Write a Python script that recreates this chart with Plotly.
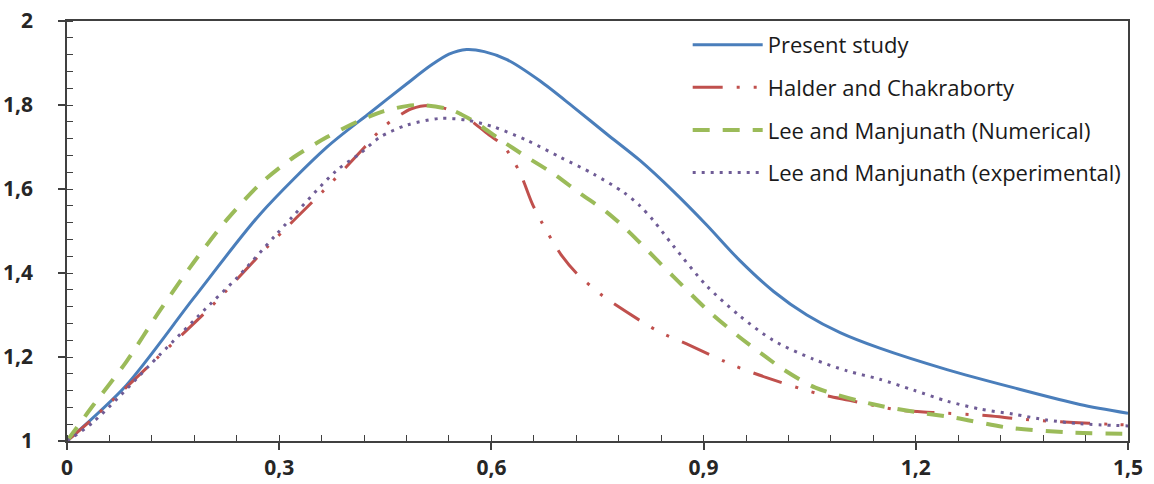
import plotly.graph_objects as go

# Present study
x_present = [0.0, 0.084, 0.179, 0.273, 0.367, 0.428, 0.480, 0.515, 0.540, 0.565, 0.590,
             0.622, 0.669, 0.716, 0.763, 0.810, 0.857, 0.904, 0.951, 0.999, 1.046,
             1.093, 1.149, 1.244, 1.338, 1.432, 1.5]
y_present = [1.0, 1.133, 1.340, 1.540, 1.699, 1.781, 1.850, 1.895, 1.921, 1.932, 1.927,
             1.908, 1.857, 1.795, 1.731, 1.668, 1.595, 1.515, 1.430, 1.356, 1.300,
             1.258, 1.221, 1.170, 1.127, 1.087, 1.066]

# Halder and Chakraborty
x_halder = [0.0, 0.033, 0.117, 0.202, 0.282, 0.372, 0.421, 0.447, 0.466, 0.487, 0.513,
            0.556, 0.598, 0.617, 0.640, 0.658, 0.678, 0.700, 0.720, 0.754, 0.774,
            0.834, 0.876, 0.944, 0.989, 1.061, 1.106, 1.178, 1.226, 1.303, 1.348,
            1.423, 1.473, 1.5]
y_halder = [1.0, 1.048, 1.181, 1.317, 1.460, 1.612, 1.700, 1.747, 1.771, 1.791, 1.799,
            1.779, 1.727, 1.703, 1.640, 1.564, 1.500, 1.440, 1.400, 1.350, 1.326,
            1.263, 1.231, 1.179, 1.151, 1.113, 1.097, 1.073, 1.068, 1.060, 1.052,
            1.044, 1.040, 1.038]

# Lee and Manjunath (Numerical)
x_lee_num = [0.0, 0.037, 0.084, 0.131, 0.179, 0.226, 0.273, 0.320, 0.367, 0.410, 0.447,
             0.494, 0.542, 0.574, 0.612, 0.650, 0.688, 0.725, 0.763, 0.787, 0.810,
             0.857, 0.904, 0.951, 0.989, 1.013, 1.058, 1.138, 1.203, 1.253, 1.330,
             1.410, 1.5]
y_lee_num = [1.0, 1.085, 1.189, 1.310, 1.425, 1.527, 1.612, 1.675, 1.723, 1.760, 1.785,
             1.800, 1.789, 1.762, 1.718, 1.676, 1.636, 1.590, 1.545, 1.510, 1.472,
             1.392, 1.314, 1.247, 1.199, 1.170, 1.127, 1.088, 1.068, 1.056, 1.032,
             1.021, 1.017]

# Lee and Manjunath (experimental)
x_lee_exp = [0.0, 0.037, 0.131, 0.202, 0.240, 0.296, 0.381, 0.414, 0.443, 0.480, 0.527,
             0.565, 0.603, 0.650, 0.697, 0.744, 0.787, 0.810, 0.829, 0.857, 0.904,
             0.951, 0.999, 1.055, 1.103, 1.149, 1.197, 1.244, 1.291, 1.338, 1.385,
             1.432, 1.5]
y_lee_exp = [1.0, 1.045, 1.205, 1.325, 1.388, 1.492, 1.644, 1.684, 1.724, 1.752, 1.768,
             1.764, 1.748, 1.716, 1.676, 1.636, 1.592, 1.560, 1.525, 1.465, 1.370,
             1.298, 1.239, 1.195, 1.167, 1.147, 1.121, 1.095, 1.076, 1.064, 1.050,
             1.041, 1.036]

x_ticks = [0, 0.3, 0.6, 0.9, 1.2, 1.5]
x_labels = ["0", "0,3", "0,6", "0,9", "1,2", "1,5"]
y_ticks = [1, 1.2, 1.4, 1.6, 1.8, 2]
y_labels = ["1", "1,2", "1,4", "1,6", "1,8", "2"]

series = [
    ("Present study", x_present, y_present, "#4A7EBB", 3, "solid"),
    ("Halder and Chakraborty", x_halder, y_halder, "#C0504D", 3,
     "30px,14px,3px,14px,3px,14px"),
    ("Lee and Manjunath (Numerical)", x_lee_num, y_lee_num, "#9BBB59", 4, "17px,13px"),
    ("Lee and Manjunath (experimental)", x_lee_exp, y_lee_exp, "#6F5C96", 3, "3px,6px"),
]

fig = go.Figure()
for i, (name, xs, ys, color, width, dash) in enumerate(series):
    fig.add_trace(go.Scatter(
        x=xs, y=ys, name=name, mode="lines", legendgroup=f"g{i}",
        line=dict(color=color, width=width, dash=dash, shape="spline", smoothing=0.8),
    ))

axis_color = "#404040"
tick_font = dict(family="Open Sans", size=21, color="#262626", weight="bold")
axis_common = dict(showline=True, linecolor=axis_color, linewidth=1.5, mirror=True,
                   showgrid=False, zeroline=False, ticks="outside", ticklen=7,
                   tickwidth=1.5, tickcolor=axis_color, tickfont=tick_font,
                   automargin=False)
inner_ticks = dict(showticklabels=False, ticks="inside", ticklen=7, tickwidth=1.5,
                   tickcolor=axis_color, showline=False, showgrid=False,
                   zeroline=False, automargin=False)

fig.update_layout(
    width=1154, height=484,
    margin=dict(l=67, r=26, t=21, b=43),
    paper_bgcolor="white", plot_bgcolor="white",
    separators=",.",
    showlegend=True,
    legend=dict(x=0.585, y=0.993, xanchor="left", yanchor="top",
                font=dict(family="Open Sans", size=22, color="#1a1a1a"),
                bgcolor="rgba(0,0,0,0)", itemwidth=70, tracegroupgap=11,
                traceorder="grouped"),
    xaxis=dict(range=[0, 1.5], tickvals=x_ticks, ticktext=x_labels,
               minor=dict(dtick=0.06, ticks="inside", ticklen=6, tickcolor=axis_color,
                          tickwidth=1.2),
               ticklabelstandoff=0, **axis_common),
    yaxis=dict(range=[1, 2], tickvals=y_ticks, ticktext=y_labels,
               minor=dict(dtick=0.04, ticks="inside", ticklen=6, tickcolor=axis_color,
                          tickwidth=1.2),
               ticklabelstandoff=21, **axis_common),
    # inner halves of the major ticks, so they cross the axis lines
    xaxis2=dict(overlaying="x", matches="x", range=[0, 1.5], tickvals=x_ticks,
                **inner_ticks),
    yaxis2=dict(overlaying="y", matches="y", range=[1, 2], tickvals=y_ticks,
                **inner_ticks),
)

fig.write_html("out.html")
